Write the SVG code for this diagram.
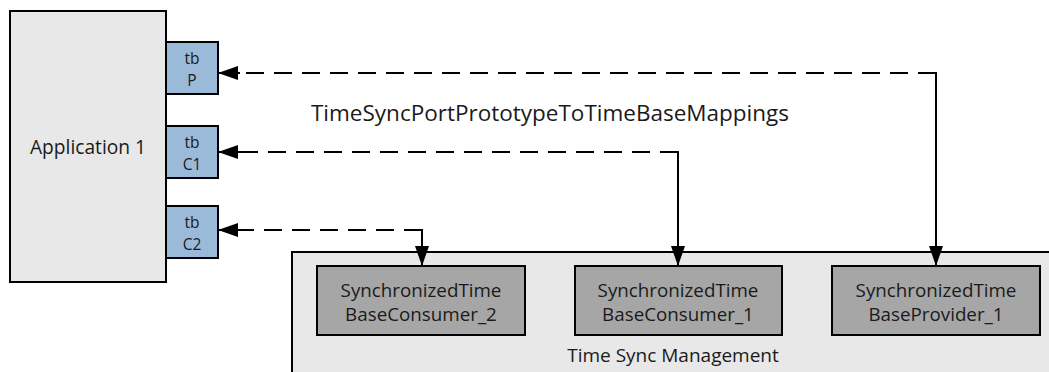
<svg xmlns="http://www.w3.org/2000/svg" width="1049" height="372" viewBox="0 0 1049 372">
<defs>
<marker id="ah" markerWidth="20" markerHeight="14" refX="19" refY="7" orient="auto" markerUnits="userSpaceOnUse"><path d="M0,0 L20,7 L0,14 Z" fill="#000"/></marker>
<style>
.box{stroke:#000;stroke-width:2}
.app{fill:#e8e8e8}
.port{fill:#9bb9d9}
.inner{fill:#a6a6a6}
text{font-family:"Open Sans","Liberation Sans",sans-serif;fill:#1a1a1a;text-anchor:middle}
.dash{fill:none;stroke:#000;stroke-width:2;stroke-dasharray:18 10}
.solid{fill:none;stroke:#000;stroke-width:2}
</style>
</defs>
<rect width="1049" height="372" fill="#fff"/>
<g id="tsm">
<rect class="box app" x="292" y="252" width="770" height="140"/>
<text x="673" y="362" font-size="19">Time Sync Management</text>
</g>
<g id="application1">
<rect class="box app" x="10" y="11" width="156" height="271"/>
<text x="88" y="154" font-size="19.2">Application 1</text>
</g>
<g id="tbP">
<rect class="box port" x="166" y="42" width="52" height="52"/>
<text x="192" y="64" font-size="15.5">tb</text>
<text x="192" y="86" font-size="15.5">P</text>
</g>
<g id="tbC1">
<rect class="box port" x="166" y="126" width="52" height="52"/>
<text x="192" y="148" font-size="15.5">tb</text>
<text x="192" y="170" font-size="15.5">C1</text>
</g>
<g id="tbC2">
<rect class="box port" x="166" y="206" width="52" height="52"/>
<text x="192" y="228" font-size="15.5">tb</text>
<text x="192" y="250" font-size="15.5">C2</text>
</g>
<g id="consumer2">
<rect class="box inner" x="317" y="266" width="208" height="69"/>
<text x="421" y="297" font-size="18.8">SynchronizedTime</text>
<text x="421" y="321" font-size="18.8">BaseConsumer_2</text>
</g>
<g id="consumer1">
<rect class="box inner" x="575" y="266" width="207" height="69"/>
<text x="678" y="297" font-size="18.8">SynchronizedTime</text>
<text x="678" y="321" font-size="18.8">BaseConsumer_1</text>
</g>
<g id="provider1">
<rect class="box inner" x="832" y="266" width="208" height="69"/>
<text x="936" y="297" font-size="18.8">SynchronizedTime</text>
<text x="936" y="321" font-size="18.8">BaseProvider_1</text>
</g>
<g id="connectors">
<line class="dash" x1="936" y1="73" x2="240" y2="73"/>
<line class="solid" x1="240" y1="73" x2="219" y2="73" marker-end="url(#ah)"/>
<line class="solid" x1="936" y1="72" x2="936" y2="265" marker-end="url(#ah)"/>
<line class="dash" x1="678" y1="152" x2="240" y2="152"/>
<line class="solid" x1="240" y1="152" x2="219" y2="152" marker-end="url(#ah)"/>
<line class="solid" x1="678" y1="151" x2="678" y2="265" marker-end="url(#ah)"/>
<line class="dash" x1="422" y1="230" x2="240" y2="230"/>
<line class="solid" x1="240" y1="230" x2="219" y2="230" marker-end="url(#ah)"/>
<line class="solid" x1="422" y1="229" x2="422" y2="265" marker-end="url(#ah)"/>
<text x="550" y="121" font-size="22.5">TimeSyncPortPrototypeToTimeBaseMappings</text>
</g>
</svg>
